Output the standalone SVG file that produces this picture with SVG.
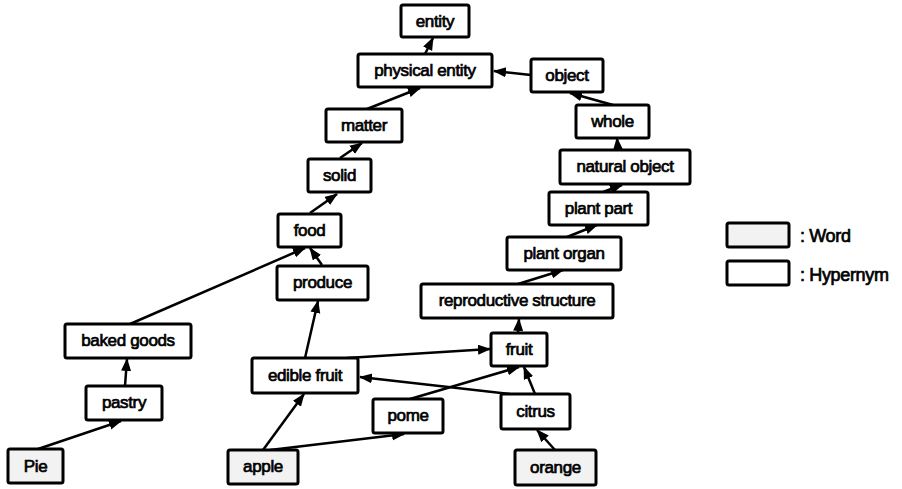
<svg xmlns="http://www.w3.org/2000/svg" width="902" height="489" viewBox="0 0 902 489">
<style>
.b{fill:#fff;stroke:#000;stroke-width:3}
.w{fill:#f2f2f2;stroke:#000;stroke-width:3}
text{font-family:"Liberation Sans",Arial,sans-serif;font-size:17px;fill:#000;stroke:#000;stroke-width:0.7;text-anchor:middle;letter-spacing:-0.35px}
.l{text-anchor:start;font-size:18px}
#edges line{stroke:#000;stroke-width:2.5;marker-end:url(#ah)}
</style>
<defs>
<marker id="ah" markerUnits="userSpaceOnUse" markerWidth="13" markerHeight="11" refX="12" refY="5" orient="auto">
<path d="M0,0 L13,5 L0,10 z" fill="#000"/>
</marker>
</defs>
<rect width="902" height="489" fill="#fff"/>
<g id="edges">
<line x1="425" y1="54" x2="433" y2="38"/>
<line x1="367" y1="109" x2="420" y2="88"/>
<line x1="531" y1="75" x2="494" y2="71"/>
<line x1="613" y1="105" x2="570" y2="93"/>
<line x1="618" y1="150" x2="617" y2="138"/>
<line x1="603" y1="192" x2="622" y2="185"/>
<line x1="567" y1="237" x2="597" y2="225"/>
<line x1="518" y1="284" x2="563" y2="270"/>
<line x1="518" y1="333" x2="519" y2="319"/>
<line x1="340" y1="158" x2="362" y2="143"/>
<line x1="310" y1="213" x2="337" y2="194"/>
<line x1="322" y1="265" x2="310" y2="248"/>
<line x1="130" y1="324" x2="305" y2="248"/>
<line x1="125" y1="386" x2="127" y2="359"/>
<line x1="38" y1="449" x2="121" y2="421"/>
<line x1="305" y1="358" x2="318" y2="301"/>
<line x1="347" y1="358" x2="490" y2="349"/>
<line x1="510" y1="394" x2="360" y2="377"/>
<line x1="535" y1="394" x2="524" y2="367"/>
<line x1="410" y1="399" x2="519" y2="367"/>
<line x1="263" y1="450" x2="304" y2="394"/>
<line x1="270" y1="450" x2="404" y2="434"/>
<line x1="555" y1="450" x2="537" y2="430"/>
</g>
<g id="entity"><rect class="b" x="401" y="5" width="68" height="32" rx="2"/><text x="435" y="27">entity</text></g>
<g id="physical-entity"><rect class="b" x="358" y="54" width="134" height="33" rx="2"/><text x="425" y="76">physical entity</text></g>
<g id="object"><rect class="b" x="531" y="59" width="72" height="33" rx="2"/><text x="567" y="81">object</text></g>
<g id="matter"><rect class="b" x="326" y="109" width="76" height="33" rx="2"/><text x="364" y="131">matter</text></g>
<g id="whole"><rect class="b" x="576" y="105" width="73" height="33" rx="2"/><text x="612.5" y="127">whole</text></g>
<g id="natural-object"><rect class="b" x="560" y="150" width="130" height="34" rx="2"/><text x="625" y="172">natural object</text></g>
<g id="solid"><rect class="b" x="308" y="159" width="63" height="33" rx="2"/><text x="339.5" y="181">solid</text></g>
<g id="plant-part"><rect class="b" x="549" y="192" width="99" height="33" rx="2"/><text x="598.5" y="214">plant part</text></g>
<g id="food"><rect class="b" x="278" y="214" width="63" height="33" rx="2"/><text x="309.5" y="236">food</text></g>
<g id="plant-organ"><rect class="b" x="507" y="237" width="114" height="33" rx="2"/><text x="564" y="259">plant organ</text></g>
<g id="produce"><rect class="b" x="277" y="266" width="91" height="34" rx="2"/><text x="322.5" y="288">produce</text></g>
<g id="reproductive-structure"><rect class="b" x="421" y="284" width="192" height="34" rx="2"/><text x="517" y="306">reproductive structure</text></g>
<g id="baked-goods"><rect class="b" x="65" y="324" width="126" height="34" rx="2"/><text x="128" y="346">baked goods</text></g>
<g id="fruit"><rect class="b" x="491" y="333" width="56" height="33" rx="2"/><text x="519" y="355">fruit</text></g>
<g id="edible-fruit"><rect class="b" x="252" y="358" width="106" height="35" rx="2"/><text x="305" y="381">edible fruit</text></g>
<g id="pastry"><rect class="b" x="86" y="386" width="76" height="34" rx="2"/><text x="124" y="408">pastry</text></g>
<g id="pome"><rect class="b" x="373" y="399" width="70" height="34" rx="2"/><text x="408" y="421">pome</text></g>
<g id="citrus"><rect class="b" x="501" y="394" width="69" height="35" rx="2"/><text x="535.5" y="417">citrus</text></g>
<g id="pie"><rect class="w" x="8" y="449" width="55" height="34" rx="2"/><text x="35.5" y="472">Pie</text></g>
<g id="apple"><rect class="w" x="228" y="450" width="70" height="34" rx="2"/><text x="263" y="472">apple</text></g>
<g id="orange"><rect class="w" x="515" y="450" width="81" height="35" rx="2"/><text x="555.5" y="473">orange</text></g>
<g id="legend">
<rect class="w" x="727" y="223" width="62" height="24" rx="2"/>
<text class="l" x="800" y="242">: Word</text>
<rect class="b" x="727" y="261" width="62" height="24" rx="2"/>
<text class="l" x="800" y="281">: Hypernym</text>
</g>
</svg>
